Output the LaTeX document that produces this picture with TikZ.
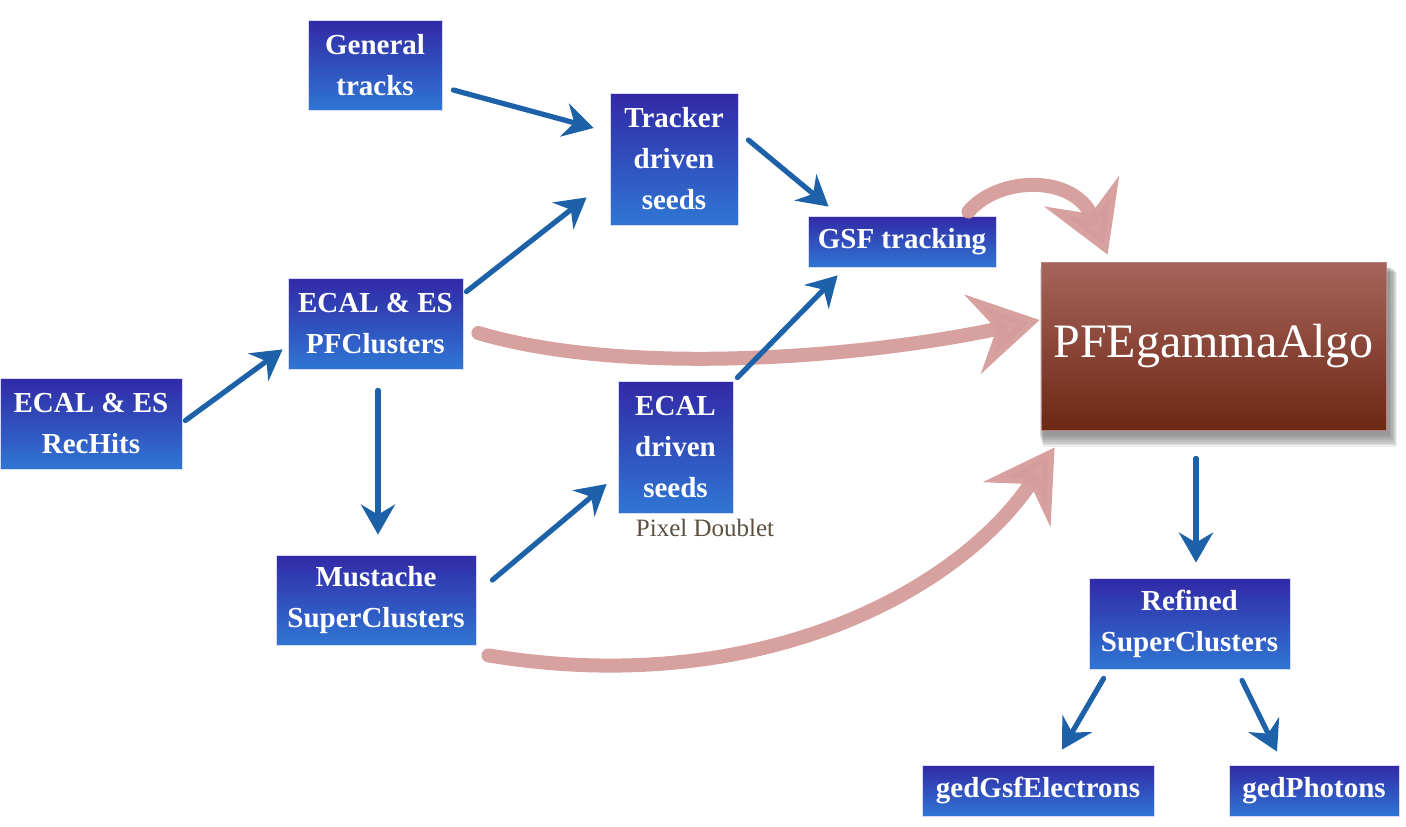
\documentclass[tikz,border=0pt]{standalone}
\usepackage{fontspec}
\setmainfont{Liberation Serif}
\usetikzlibrary{arrows.meta,calc}
\definecolor{boxtop}{HTML}{3229A6}
\definecolor{boxbot}{HTML}{2F76D4}
\definecolor{pfetop}{HTML}{A6645C}
\definecolor{pfebot}{HTML}{6D2814}
\definecolor{barrowc}{HTML}{1D62A8}
\definecolor{parrowc}{HTML}{D49C9A}
\definecolor{pixc}{HTML}{5C5040}
\tikzset{
  bluebox/.style={rectangle, top color=boxtop, bottom color=boxbot, draw=blue!15, line width=0.4pt,
    text=white, font=\fontsize{14.5}{20.5}\selectfont\bfseries, align=center, inner sep=0pt},
  pfebox/.style={rectangle, top color=pfetop, bottom color=pfebot, draw=pfetop!80!white, line width=0.4pt,
    text=white, font=\fontsize{24}{28}\selectfont, inner sep=0pt},
  barrow/.style={draw=barrowc, line width=2.6pt, line cap=round,
    -{Stealth[length=15pt,width=17pt,inset=5pt]}},
  parrow/.style={draw=parrowc, line width=7pt, line cap=round,
    -{Stealth[length=34pt,width=40pt,inset=12pt]}},
}
\begin{document}
\begin{tikzpicture}[x=0.5pt,y=-0.5pt]
\useasboundingbox (0,0) rectangle (1406,826);
% shadow for PFEgammaAlgo
\foreach \i in {1,...,7}{
  \fill[black,opacity=0.07] ({1041-2+\i*0.6},{262+4+\i*0.8}) rectangle ({1386+3+\i*1.2},{430+4+\i*1.9});
}
% nodes
\node[bluebox, minimum width=67pt, minimum height=45pt] (gen) at (375,65) {General\\tracks};
\node[bluebox, minimum width=64pt, minimum height=66pt] (trk) at (674,159) {Tracker\\driven\\seeds};
\node[bluebox, minimum width=94pt, minimum height=25.5pt] (gsf) at (902,241.5) {GSF tracking};
\node[bluebox, minimum width=87.5pt, minimum height=45.5pt] (pfc) at (375.5,323.5) {ECAL \& ES\\PFClusters};
\node[bluebox, minimum width=91pt, minimum height=45.5pt] (rec) at (91,423.5) {ECAL \& ES\\RecHits};
\node[bluebox, minimum width=57.5pt, minimum height=66pt] (ecs) at (675.5,447) {ECAL\\driven\\seeds};
\node[text=pixc, font=\fontsize{12.5}{14}\selectfont, inner sep=0pt] (pix) at (705,528) {Pixel Doublet};
\node[bluebox, minimum width=100pt, minimum height=45pt] (mus) at (376,600) {Mustache\\SuperClusters};
\node[pfebox, minimum width=172.5pt, minimum height=84pt] (pfe) at (1213.5,346) {PFEgammaAlgo};
\node[bluebox, minimum width=100.5pt, minimum height=45.5pt] (ref) at (1189.5,623.5) {Refined\\SuperClusters};
\node[bluebox, minimum width=116pt, minimum height=25.5pt] (ele) at (1038,790.5) {gedGsfElectrons};
\node[bluebox, minimum width=85pt, minimum height=25.5pt] (pho) at (1314,790.5) {gedPhotons};
% pink arrows
\draw[parrow, opacity=0.95] ([shift={(-28,-4)}]gsf.north east) .. controls (1000,175) and (1075,175) .. ([shift={(67,-7)}]pfe.north west);
\draw[parrow, opacity=0.95] ([shift={(15,9.5)}]pfc.east) .. controls (620,375) and (850,360) .. ([shift={(-1,-26)}]pfe.west);
\draw[parrow, opacity=0.95] ([shift={(12,10)}]mus.south east) .. controls (760,700) and (960,590) .. ([shift={(14,17)}]pfe.south west);
% blue arrows
\draw[barrow] ([shift={(3,-3)}]rec.east) -- ([shift={(-5,-20)}]pfc.south west);
\draw[barrow] ([shift={(11,25)}]gen.east) -- ([shift={(-16,-31)}]trk.west);
\draw[barrow] ([shift={(3,14)}]pfc.north east) -- ([shift={(-23,-28)}]trk.south west);
\draw[barrow] ([shift={(10,-19)}]trk.east) -- ([shift={(21,-9)}]gsf.north west);
\draw[barrow] ([shift={(4,-3)}]ecs.north east) -- ([shift={(30,8)}]gsf.south west);
\draw[barrow] ([shift={(2.5,21)}]pfc.south) -- ([shift={(2,-20)}]mus.north);
\draw[barrow] ([shift={(16,-20)}]mus.east) -- ([shift={(-11,37)}]ecs.west);
\draw[barrow] ([shift={(-17.5,28)}]pfe.south) -- ([shift={(6.5,-15)}]ref.north);
\draw[barrow] ([shift={(15,9)}]ref.south west) -- ([shift={(24,-15)}]ele.north);
\draw[barrow] ([shift={(52.5,11)}]ref.south) -- ([shift={(-37,-13)}]pho.north);
\end{tikzpicture}
\end{document}
